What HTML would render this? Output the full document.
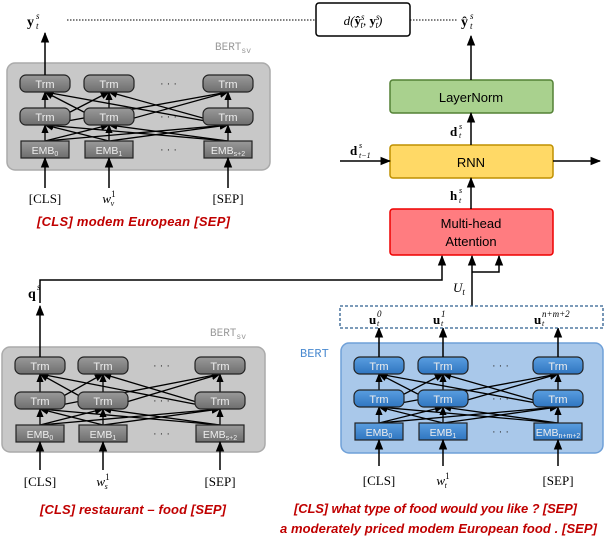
<!DOCTYPE html>
<html><head><meta charset="utf-8"><style>
html,body{margin:0;padding:0;background:#fff}
svg{display:block}
text{font-family:"Liberation Sans",sans-serif}
.ser{font-family:"Liberation Serif",serif}
.mono{font-family:"Liberation Mono",monospace}
.red{fill:#c00000;font-style:italic;font-size:13px;font-weight:bold}
</style></head><body>
<svg id="s" width="606" height="538" viewBox="0 0 606 538" xmlns="http://www.w3.org/2000/svg">
<defs>
<marker id="ah" viewBox="0 0 10 10" refX="9" refY="5" markerWidth="7" markerHeight="7" orient="auto"><path d="M0,1 L10,5 L0,9z" fill="#000"/></marker>
<linearGradient id="gg" x1="0" y1="0" x2="0" y2="1"><stop offset="0" stop-color="#9a9a9a"/><stop offset="1" stop-color="#6e6e6e"/></linearGradient>
<linearGradient id="bg" x1="0" y1="0" x2="0" y2="1"><stop offset="0" stop-color="#5a9ee0"/><stop offset="1" stop-color="#2f75c0"/></linearGradient>
</defs>
<g id="g"></g>
<text x="27" y="26" class="ser" font-size="14" font-weight="bold">y</text><text x="36" y="19" class="ser" font-size="9" font-style="italic">s</text><text x="36" y="29" class="ser" font-size="9" font-style="italic">t</text>
<line x1="67" y1="20" x2="316" y2="20" stroke="#000" stroke-dasharray="1.5,1.5"/>
<rect x="316" y="3" width="94" height="33" rx="3" fill="#fff" stroke="#000" stroke-width="1.5"/>
<text x="363" y="25" class="ser" font-size="13" font-style="italic" text-anchor="middle">d(<tspan font-weight="bold" font-style="normal">ŷ</tspan><tspan font-size="9" dy="-5">s</tspan><tspan font-size="9" dx="-4" dy="8">t</tspan><tspan dy="-3">, </tspan><tspan font-weight="bold" font-style="normal">y</tspan><tspan font-size="9" dy="-5">s</tspan><tspan font-size="9" dx="-4" dy="8">t</tspan><tspan dy="-3">)</tspan></text>
<line x1="410" y1="20" x2="457" y2="20" stroke="#000" stroke-dasharray="1.5,1.5"/>
<text x="461" y="26" class="ser" font-size="14" font-weight="bold">ŷ</text><text x="470" y="19" class="ser" font-size="9" font-style="italic">s</text><text x="470" y="29" class="ser" font-size="9" font-style="italic">t</text>
<text x="215" y="50" font-size="11" fill="#999" class="mono">BERT<tspan font-size="8" dy="3">sv</tspan></text>
<text x="210" y="336" font-size="11" fill="#999" class="mono">BERT<tspan font-size="8" dy="3">sv</tspan></text>
<text x="300" y="357" font-size="12" fill="#4a8ad0" class="mono">BERT</text>
<rect x="390" y="80" width="163" height="33" rx="3" fill="#a9d18e" stroke="#538135" stroke-width="1.5"/>
<text x="471" y="102" font-size="13" text-anchor="middle">LayerNorm</text>
<rect x="390" y="145" width="163" height="33" rx="3" fill="#ffd966" stroke="#bf9000" stroke-width="1.5"/>
<text x="471" y="167" font-size="13" text-anchor="middle">RNN</text>
<rect x="390" y="209" width="163" height="46" rx="3" fill="#ff7c80" stroke="#e00" stroke-width="1.5"/>
<text x="471" y="228" font-size="13" text-anchor="middle">Multi-head</text>
<text x="471" y="246" font-size="13" text-anchor="middle">Attention</text>
<g stroke="#000" stroke-width="1.5" fill="none">
<line x1="471" y1="80" x2="471" y2="36" marker-end="url(#ah)"/>
<line x1="471" y1="145" x2="471" y2="113" marker-end="url(#ah)"/>
<line x1="471" y1="209" x2="471" y2="178" marker-end="url(#ah)"/>
<line x1="340" y1="161" x2="390" y2="161" marker-end="url(#ah)"/>
<line x1="553" y1="161" x2="600" y2="161" marker-end="url(#ah)"/>
<line x1="472" y1="306" x2="472" y2="256" marker-end="url(#ah)"/>
<polyline points="472,272 499,272 499,256" marker-end="url(#ah)"/>
<polyline points="40,303 40,280 442,280 442,256" marker-end="url(#ah)"/>
</g>
<text x="450" y="136" class="ser" font-size="13" font-weight="bold">d</text><text x="459" y="129" class="ser" font-size="8" font-style="italic">s</text><text x="459" y="138" class="ser" font-size="8" font-style="italic">t</text>
<text x="350" y="155" class="ser" font-size="13" font-weight="bold">d</text><text x="359" y="148" class="ser" font-size="8" font-style="italic">s</text><text x="359" y="158" class="ser" font-size="8" font-style="italic">t−1</text>
<text x="450" y="200" class="ser" font-size="13" font-weight="bold">h</text><text x="459" y="193" class="ser" font-size="8" font-style="italic">s</text><text x="459" y="203" class="ser" font-size="8" font-style="italic">t</text>
<text x="453" y="292" class="ser" font-size="13" font-style="italic">U<tspan font-size="9" dy="3">t</tspan></text>
<text x="28" y="298" class="ser" font-size="14" font-weight="bold">q</text><text x="37" y="290" class="ser" font-size="9" font-style="italic">s</text>
<rect x="340" y="306" width="263" height="22" fill="#fff" stroke="#2e5f8f" stroke-dasharray="3,2" stroke-width="1.3"/>
<text x="369" y="324" class="ser" font-size="13" font-weight="bold">u</text><text x="377" y="317" class="ser" font-size="9" font-style="italic">0</text><text x="377" y="326" class="ser" font-size="8" font-style="italic">t</text>
<text x="433" y="324" class="ser" font-size="13" font-weight="bold">u</text><text x="441" y="317" class="ser" font-size="9" font-style="italic">1</text><text x="441" y="326" class="ser" font-size="8" font-style="italic">t</text>
<text x="534" y="324" class="ser" font-size="13" font-weight="bold">u</text><text x="542" y="317" class="ser" font-size="9" font-style="italic">n+m+2</text><text x="542" y="326" class="ser" font-size="8" font-style="italic">t</text>
<text x="37" y="226" class="red" textLength="193" lengthAdjust="spacing">[CLS]  modem  European  [SEP]</text>
<text x="40" y="514" class="red" textLength="186" lengthAdjust="spacing">[CLS]  restaurant  – food  [SEP]</text>
<text x="294" y="513" class="red" textLength="283" lengthAdjust="spacing">[CLS] what type of food would you like ? [SEP]</text>
<text x="280" y="533" class="red" textLength="317" lengthAdjust="spacing">a moderately priced modem European food . [SEP]</text>
</svg>
<script>
var g=document.getElementById('g'),NS='http://www.w3.org/2000/svg';
function el(t,a,txt){var e=document.createElementNS(NS,t);for(var k in a)e.setAttribute(k,a[k]);if(txt!==undefined)e.innerHTML=txt;g.appendChild(e);return e;}
function block(o){
 el('rect',{x:o.bx,y:o.by,width:o.bw,height:o.bh,rx:8,fill:o.boxFill,stroke:o.boxStroke,'stroke-width':1.5});
 var rows=[o.r1,o.r2];var cs=o.cols;
 var levels=[[o.emb,o.r2],[o.r2+17,o.r1]];
 levels.forEach(function(L){
  cs.forEach(function(a){cs.forEach(function(b){
   el('line',{x1:a,y1:L[0],x2:b,y2:L[1]+17,stroke:'#000','stroke-width':1.3,'marker-end':'url(#ah)'});
  });});
 });
 cs.forEach(function(c,i){
  rows.forEach(function(r){
   el('rect',{x:c-25,y:r,width:50,height:17,rx:6,fill:o.nodeFill,stroke:'#222','stroke-width':1.2});
   el('text',{x:c,y:r+13,'font-size':11,fill:'#eee','text-anchor':'middle'},'Trm');
  });
  el('rect',{x:c-24,y:o.emb,width:48,height:17,fill:o.nodeFill,stroke:'#222','stroke-width':1.2});
  el('text',{x:c,y:o.emb+13,'font-size':10.5,fill:'#eee','text-anchor':'middle'},'EMB<tspan font-size="7" dy="2">'+o.subs[i]+'</tspan>');
  el('line',{x1:c,y1:o.in0,x2:c,y2:o.emb+17,stroke:'#000','stroke-width':1.5,'marker-end':'url(#ah)'});
  if(o.all||i==0) el('line',{x1:c,y1:o.r1,x2:c,y2:o.outTo,stroke:'#000','stroke-width':1.5,'marker-end':'url(#ah)'});
 });
 [o.r1,o.r2,o.emb].forEach(function(r){el('text',{x:(cs[1]+cs[2])/2,y:r+12,'font-size':11,fill:'#333','text-anchor':'middle'},'· · ·');});
 var lab=['[CLS]',o.w,'[SEP]'];
 cs.forEach(function(c,i){el('text',{x:c,y:o.ty,'font-size':13,'text-anchor':'middle','class':'ser'},lab[i]);});
}
block({bx:7,by:63,bw:263,bh:107,cols:[45,109,228],r1:75,r2:108,emb:141,in0:188,outTo:33,ty:203,boxFill:'#c8c8c8',boxStroke:'#aaa',nodeFill:'url(#gg)',subs:['0','1','s+2'],w:'<tspan font-style="italic">w</tspan><tspan font-size="9" dy="-6">1</tspan><tspan font-size="8" font-style="italic" dx="-5" dy="9">v</tspan>'});
block({bx:2,by:347,bw:263,bh:105,cols:[40,103,220],r1:357,r2:392,emb:425,in0:470,outTo:306,ty:486,boxFill:'#c8c8c8',boxStroke:'#aaa',nodeFill:'url(#gg)',subs:['0','1','s+2'],w:'<tspan font-style="italic">w</tspan><tspan font-size="9" dy="-6">1</tspan><tspan font-size="8" font-style="italic" dx="-5" dy="9">s</tspan>'});
block({all:true,bx:341,by:343,bw:262,bh:110,cols:[379,443,558],r1:357,r2:390,emb:423,in0:466,outTo:328,ty:485,boxFill:'#a9c8ea',boxStroke:'#6fa0d8',nodeFill:'url(#bg)',subs:['0','1','n+m+2'],w:'<tspan font-style="italic">w</tspan><tspan font-size="9" dy="-6">1</tspan><tspan font-size="8" font-style="italic" dx="-5" dy="9">t</tspan>'});
</script>
</body></html>
